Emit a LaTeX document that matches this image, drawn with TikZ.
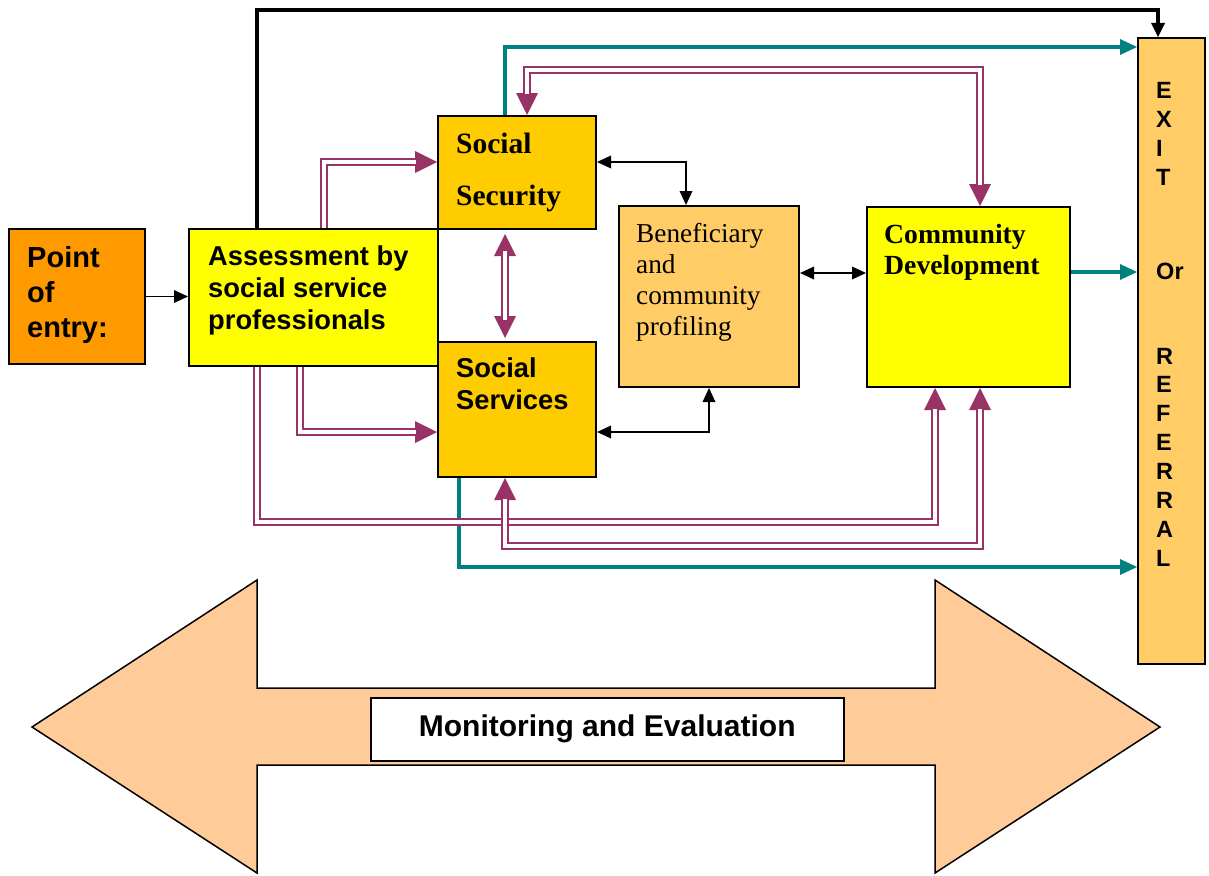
\documentclass[tikz,border=0pt]{standalone}
\usepackage{fontspec}
\setmainfont{Liberation Serif}
\setsansfont{Liberation Sans}
\usetikzlibrary{arrows.meta,calc}
\definecolor{orangeC}{HTML}{FF9900}
\definecolor{yellowC}{HTML}{FFFF00}
\definecolor{goldC}{HTML}{FFCC00}
\definecolor{lightC}{HTML}{FFCC66}
\definecolor{peachC}{HTML}{FFCC99}
\definecolor{purpC}{HTML}{993366}
\definecolor{tealC}{HTML}{008080}
\tikzset{
  box/.style={draw=black, line width=2pt, inner sep=0pt, anchor=north west},
  txt/.style={inner sep=0pt, anchor=base west},
  sfb/.style={font={\sffamily\bfseries\fontsize{#1}{#1}\selectfont}},
  thinarr/.style={draw=black, line width=1.5pt, {Triangle[length=14pt,width=13pt,line width=0pt]}-{Triangle[length=14pt,width=13pt,line width=0pt]}},
  thinone/.style={draw=black, line width=1.5pt, -{Triangle[length=14pt,width=13pt,line width=0pt]}},
  tealarr/.style={draw=tealC, line width=4pt, -{Triangle[length=17pt,width=16pt,line width=0pt]}},
  blackthick/.style={draw=black, line width=4pt, -{Triangle[length=14pt,width=14pt,line width=0pt]}},
  dblone/.style={draw=purpC, line width=7.5pt, line join=miter,
    -{Triangle[length=22pt,width=22pt,line width=0pt]},
    postaction={draw=white, line width=3.5pt, shorten >=21pt, -}},
  dbltwo/.style={draw=purpC, line width=7.5pt, line join=miter,
    {Triangle[length=22pt,width=22pt,line width=0pt]}-{Triangle[length=22pt,width=22pt,line width=0pt]},
    postaction={draw=white, line width=3.5pt, shorten >=21pt, shorten <=21pt, -}},
}
\begin{document}
\begin{tikzpicture}[x=1pt,y=-1pt]
\useasboundingbox (0,0) rectangle (1209,875);

% big double arrow
\draw[fill=peachC, line width=1.5pt, line join=miter]
  (32,727) -- (257,580) -- (257,688) -- (935,688) -- (935,580) -- (1160,727)
  -- (935,873) -- (935,765) -- (257,765) -- (257,873) -- cycle;
\node[box, fill=white, line width=1.5pt, minimum width=473pt, minimum height=63pt] (me) at (370,697) {};
\node[sfb=30, inner sep=0pt, anchor=base] (metxt) at ($(me.north)+(0,39)$) {Monitoring and Evaluation};

% boxes
\node[box, fill=orangeC, minimum width=136pt, minimum height=135pt] (poe) at (8,228) {};
\node[box, fill=yellowC, minimum width=249pt, minimum height=137pt] (assess) at (188,228) {};
\node[box, fill=goldC, minimum width=158pt, minimum height=113pt] (ssec) at (437,115) {};
\node[box, fill=goldC, minimum width=158pt, minimum height=135pt] (ssrv) at (437,341) {};
\node[box, fill=lightC, minimum width=180pt, minimum height=181pt] (ben) at (618,205) {};
\node[box, fill=yellowC, minimum width=203pt, minimum height=180pt] (cd) at (866,206) {};
\node[box, fill=lightC, minimum width=67pt, minimum height=626pt] (exit) at (1137,37) {};

% texts
\node[txt, font={\sffamily\bfseries\fontsize{29}{35}\selectfont}] (poetxt) at (27,267)
  {\begin{tabular}[t]{@{}l@{}}Point\\of\\entry:\end{tabular}};
\node[txt, font={\sffamily\bfseries\fontsize{27.3}{32}\selectfont}] (assesstxt) at (208,265)
  {\begin{tabular}[t]{@{}l@{}}Assessment by\\social service\\professionals\end{tabular}};
\node[txt, font={\rmfamily\bfseries\fontsize{29.5}{52}\selectfont}] (ssectxt) at (456,153)
  {\begin{tabular}[t]{@{}l@{}}Social\\Security\end{tabular}};
\node[txt, font={\sffamily\bfseries\fontsize{27.3}{32}\selectfont}] (ssrvtxt) at (456,377.5)
  {\begin{tabular}[t]{@{}l@{}}Social\\Services\end{tabular}};
\node[txt, font={\rmfamily\fontsize{27.3}{31}\selectfont}] (bentxt) at (636,242)
  {\begin{tabular}[t]{@{}l@{}}Beneficiary\\and\\community\\profiling\end{tabular}};
\node[txt, font={\rmfamily\bfseries\fontsize{27.7}{31}\selectfont}] (cdtxt) at (884,243)
  {\begin{tabular}[t]{@{}l@{}}Community\\Development\end{tabular}};
\node[txt, font={\sffamily\bfseries\fontsize{23.5}{29}\selectfont}] (exittxt1) at (1156,98)
  {\begin{tabular}[t]{@{}l@{}}E\\X\\I\\T\end{tabular}};
\node[txt, sfb=23.5] (exittxt2) at (1156,279) {Or};
\node[txt, font={\sffamily\bfseries\fontsize{23.5}{28.9}\selectfont}] (exittxt3) at (1156,364)
  {\begin{tabular}[t]{@{}l@{}}R\\E\\F\\E\\R\\R\\A\\L\end{tabular}};

% black thick line to exit
\draw[blackthick] ($(assess.north west)+(69,0)$) -- ++(0,-218) -| ($(exit.north west)+(21,0)$);

% teal arrows
\draw[tealarr] ($(ssec.north west)+(68,0)$) -- ++(0,-68) -- ($(exit.north west)+(0,10)$);
\draw[tealarr] ($(cd.north east)+(0,66)$) -- ($(exit.north west)+(0,235)$);
\draw[tealarr] ($(ssrv.south west)+(22,0)$) |- ($(exit.north west)+(0,530)$);

% thin black connectors
\draw[thinone] (poe.east) -- (poe.east -| assess.west);
\draw[thinarr] ($(ssec.north east)+(0,47)$) -| ($(ben.north west)+(68,0)$);
\draw[thinarr] ($(ssrv.north east)+(0,91)$) -| ($(ben.south west)+(91,0)$);
\draw[thinarr] ($(ben.north east)+(0,68)$) -- ($(cd.north west)+(0,67)$);

% purple double arrows
\draw[dblone] ($(assess.north west)+(136,0)$) |- ($(ssec.north west)+(0,47)$);
\draw[dblone] ($(assess.south west)+(112,0)$) |- ($(ssrv.north west)+(0,91)$);
\draw[dblone] ($(assess.south west)+(69,0)$) -- ++(0,155) -| ($(cd.south west)+(69,0)$);
\draw[dbltwo] ($(ssrv.south west)+(68,0)$) -- ++(0,68) -| ($(cd.south west)+(114,0)$);
\draw[dbltwo, shorten <=4pt, shorten >=3pt] ($(ssec.south west)+(68,0)$) -- ($(ssrv.north west)+(68,0)$);
\draw[dbltwo] ($(ssec.north west)+(90,0)$) -- ++(0,-45) -| ($(cd.north west)+(114,0)$);
\end{tikzpicture}
\end{document}
